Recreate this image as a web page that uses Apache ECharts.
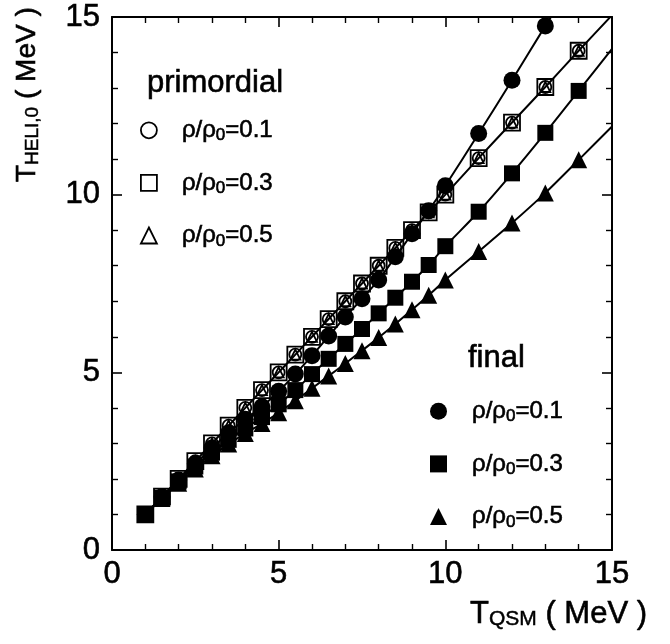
<!DOCTYPE html>
<html>
<head>
<meta charset="utf-8">
<script src="https://cdn.jsdelivr.net/npm/echarts@6/dist/echarts.min.js"></script>
<style>html,body{margin:0;padding:0;background:#fff}#c{width:670px;height:644px}</style>
</head>
<body>
<div id="c"></div>
<script>
// ---- data ----
const xs = [1,1.5,2,2.5,3,3.5,4,4.5,5,5.5,6,6.5,7,7.5,8,8.5,9,9.5,10,11,12,13,14];
const xs01 = [1,1.5,2,2.5,3,3.5,4,4.5,5,5.5,6,6.5,7,7.5,8,8.5,9,9.5,10,11,12,13];
const primordial01 = [1,1.5,2,2.5,3,3.5,4,4.5,5,5.5,6,6.5,7,7.5,8,8.5,9,9.5,10,11.03,12.03,13.03,14.05];
const primordial03 = [1,1.5,2,2.5,3,3.5,4,4.5,5,5.5,6,6.5,7,7.5,8,8.5,9,9.5,10,11.03,12.03,13.03,14.05];
const primordial05 = [1,1.5,2,2.5,3,3.5,4,4.5,5,5.5,6,6.5,7,7.5,8,8.5,9,9.5,10,11.03,12.03,13.03,14.05];
const final01 = [1.0,1.5,1.97,2.43,2.87,3.3,3.68,4.03,4.47,4.95,5.47,6.02,6.56,7.07,7.6,8.25,8.9,9.55,10.25,11.72,13.22,14.75];
const final03 = [1.0,1.47,1.93,2.35,2.74,3.1,3.42,3.74,4.1,4.5,4.95,5.38,5.8,6.22,6.66,7.1,7.55,8.02,8.55,9.52,10.6,11.74,12.92];
const final05 = [1.0,1.45,1.88,2.28,2.65,2.98,3.28,3.56,3.86,4.2,4.55,4.9,5.25,5.61,5.98,6.36,6.76,7.17,7.6,8.4,9.2,10.05,10.98];
// fitted curve end points (where the drawn curves leave the frame)
const primLineEnd = [15, 15.05];
const final01LineEnd = [13.17, 15.0];
const final03LineEnd = [15, 14.1];
const final05LineEnd = [15, 11.92];
const xTicks = [0, 5, 10, 15];
const yTicks = [0, 5, 10, 15];
const densityLabels = ['0.1', '0.3', '0.5'];

const FONT = '"Liberation Sans", Arial, Helvetica, sans-serif';
const INK = {textBorderColor: '#000', textBorderWidth: 0.6};
const pairs = (x, y) => x.map((v, i) => [v, y[i]]);
const chart = echarts.init(document.getElementById('c'), null, {renderer: 'canvas'});

function lineSeries(name, x, y, end) {
  return {
    name, type: 'line', data: pairs(x, y).concat([end]), showSymbol: false,
    smooth: 0.25, clip: true, z: 1, silent: true,
    lineStyle: {color: '#000', width: 2}
  };
}
const openStyle = {color: 'rgba(0,0,0,0)', borderColor: '#000', borderWidth: 1.8, opacity: 1};
const fillStyle = {color: '#000', opacity: 1};

const legendLabel = {};
['p', 'f'].forEach(k => densityLabels.forEach(d => {
  legendLabel[k + d] = '{p|ρ/ρ}{s|0}{a|=' + d + '}';
}));
const legendRich = {
  p: Object.assign({fontSize: 24, lineHeight: 28, fontFamily: FONT, color: '#000', padding: [0, 0, 0, 20]}, INK),
  s: Object.assign({fontSize: 17, lineHeight: 14, fontFamily: FONT, color: '#000', verticalAlign: 'bottom'}, INK),
  a: Object.assign({fontSize: 24, lineHeight: 28, fontFamily: FONT, color: '#000'}, INK)
};

const axisCommon = {
  type: 'value', min: 0, max: 15, interval: 5,
  axisLine: {show: true, onZero: false, lineStyle: {color: '#000', width: 2}},
  axisTick: {show: true, inside: true, length: 10, lineStyle: {color: '#000', width: 1.6}},
  minorTick: {show: true, splitNumber: 5, length: 6, lineStyle: {color: '#000', width: 1.4}},
  splitLine: {show: false}
};
const tickLabel = Object.assign({show: true, fontSize: 31, fontFamily: FONT, color: '#000'}, INK);

chart.setOption({
  animation: false,
  backgroundColor: '#fff',
  grid: {left: 112, right: 58, top: 17, bottom: 94, containLabel: false},
  xAxis: [
    Object.assign({}, axisCommon, {position: 'bottom',
      axisLabel: Object.assign({}, tickLabel, {margin: 9, formatter: v => xTicks.indexOf(v) >= 0 ? String(v) : ''})}),
    Object.assign({}, axisCommon, {position: 'top', axisLabel: {show: false}})
  ],
  yAxis: [
    Object.assign({}, axisCommon, {position: 'left',
      axisLabel: Object.assign({}, tickLabel, {margin: 12, formatter: v => yTicks.indexOf(v) >= 0 ? String(v) : ''})}),
    Object.assign({}, axisCommon, {position: 'right', axisLabel: {show: false}})
  ],
  legend: [
    {
      orient: 'vertical', left: 135, top: 113, itemWidth: 16, itemHeight: 16, itemGap: 26,
      selectedMode: false, formatter: n => legendLabel[n], textStyle: {rich: legendRich},
      data: [
        {name: 'p0.1', icon: 'circle', itemStyle: openStyle},
        {name: 'p0.3', icon: 'rect', itemStyle: openStyle},
        {name: 'p0.5', icon: 'triangle', itemStyle: openStyle}
      ]
    },
    {
      orient: 'vertical', left: 425, top: 394, itemWidth: 17, itemHeight: 17, itemGap: 26,
      selectedMode: false, formatter: n => legendLabel[n], textStyle: {rich: legendRich},
      data: [
        {name: 'f0.1', icon: 'circle', itemStyle: fillStyle},
        {name: 'f0.3', icon: 'rect', itemStyle: fillStyle},
        {name: 'f0.5', icon: 'triangle', itemStyle: fillStyle}
      ]
    }
  ],
  graphic: [
    {type: 'text', x: 147, y: 83, silent: true,
      style: Object.assign({text: 'primordial', fontSize: 31, fontFamily: FONT, fill: '#000', stroke: '#000', lineWidth: 0.6, verticalAlign: 'middle'})},
    {type: 'text', x: 468, y: 358, silent: true,
      style: {text: 'final', fontSize: 31, fontFamily: FONT, fill: '#000', stroke: '#000', lineWidth: 0.6, verticalAlign: 'middle'}},
    {type: 'text', x: 470, y: 614, silent: true,
      style: {text: '{t|T}{s|QSM}{t| ( MeV )}', verticalAlign: 'middle',
        rich: {t: {fontSize: 31, lineHeight: 32, fontFamily: FONT, fill: '#000', stroke: '#000', lineWidth: 0.6},
               s: {fontSize: 21, lineHeight: 14, fontFamily: FONT, fill: '#000', stroke: '#000', lineWidth: 0.5, verticalAlign: 'bottom'}}}},
    {type: 'text', x: 27, y: 182, rotation: Math.PI / 2, silent: true,
      style: {text: '{t|T}{s|HELI,0}{t| ( MeV )}', verticalAlign: 'middle', align: 'left',
        rich: {t: {fontSize: 28, lineHeight: 30, fontFamily: FONT, fill: '#000', stroke: '#000', lineWidth: 0.6},
               s: {fontSize: 19, lineHeight: 14, fontFamily: FONT, fill: '#000', stroke: '#000', lineWidth: 0.5, verticalAlign: 'bottom'}}}}
  ],
  series: [
    lineSeries('primLine', xs, primordial03, primLineEnd),
    lineSeries('f01Line', xs01, final01, final01LineEnd),
    lineSeries('f03Line', xs, final03, final03LineEnd),
    lineSeries('f05Line', xs, final05, final05LineEnd),
    {name: 'f0.5', type: 'scatter', data: pairs(xs, final05), symbol: 'triangle', symbolSize: 17, itemStyle: fillStyle, z: 2},
    {name: 'f0.3', type: 'scatter', data: pairs(xs, final03), symbol: 'rect', symbolSize: 16, itemStyle: fillStyle, z: 2},
    {name: 'f0.1', type: 'scatter', data: pairs(xs01, final01), symbol: 'circle', symbolSize: 17, itemStyle: fillStyle, z: 2},
    {name: 'p0.3', type: 'scatter', data: pairs(xs, primordial03), symbol: 'rect', symbolSize: 16, itemStyle: openStyle, z: 3},
    {name: 'p0.1', type: 'scatter', data: pairs(xs, primordial01), symbol: 'circle', symbolSize: 12, itemStyle: openStyle, z: 3},
    {name: 'p0.5', type: 'scatter', data: pairs(xs, primordial05), symbol: 'triangle', symbolSize: 10, itemStyle: openStyle, z: 3}
  ]
});
</script>
</body>
</html>
